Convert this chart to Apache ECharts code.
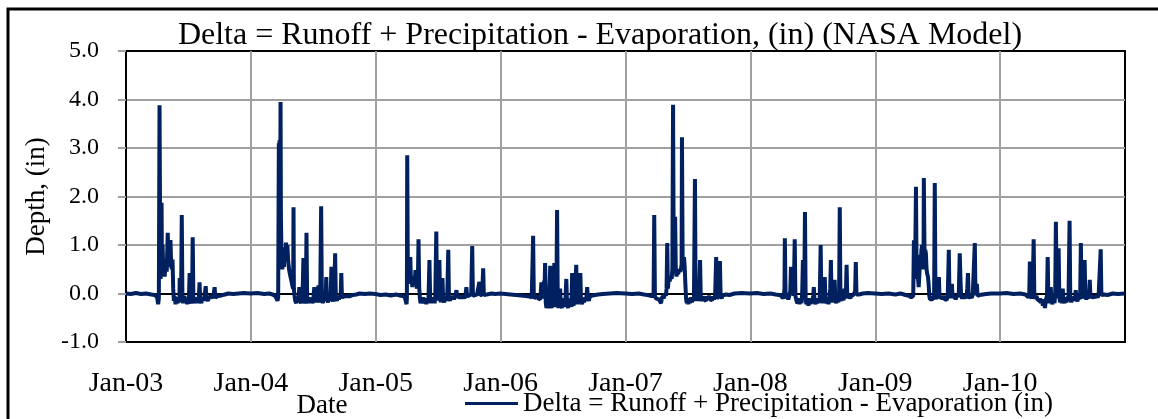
<!DOCTYPE html>
<html>
<head>
<meta charset="utf-8">
<script src="https://cdn.jsdelivr.net/npm/echarts@6/dist/echarts.min.js"></script>
<style>
html,body{margin:0;padding:0;background:#fff;}
#chart{width:1158px;height:419px;}
</style>
</head>
<body>
<div id="chart"></div>
<script>
// ---- DATA: [day of year, delta (in)], one array per year ----
const d2003 = [[1,0],[15,-0.01],[30,0.01],[45,-0.01],[60,0],[75,-0.02],[85,-0.03],[92,-0.08],[95,-0.22],[97,-0.1],[99,3.88],[101,0.9],[102,0.3],[104,0.5],[105,1.87],[106,0.35],[108,1.0],[110,0.4],[112,0.6],[114,0.35],[117,0.7],[120,0.45],[123,1.25],[125,0.55],[128,0.7],[131,1.1],[133,0.6],[135,0.5],[137,0.7],[139,0.1],[141,-0.15],[143,-0.05],[146,-0.22],[149,-0.12],[152,-0.2],[155,-0.08],[157,-0.18],[158,0.32],[160,-0.15],[162,-0.1],[164,1.62],[166,-0.12],[168,-0.2],[171,-0.05],[174,-0.18],[177,-0.1],[180,-0.22],[183,-0.12],[185,-0.05],[187,0.42],[189,-0.15],[192,-0.2],[194,-0.1],[196,1.16],[198,-0.12],[201,-0.2],[204,-0.08],[207,-0.18],[210,-0.1],[213,-0.2],[216,0.23],[218,-0.12],[221,-0.2],[224,-0.1],[227,-0.15],[230,-0.08],[234,0.15],[236,-0.1],[240,-0.15],[244,-0.08],[248,-0.12],[252,-0.05],[256,-0.1],[260,0.13],[262,-0.08],[266,-0.1],[270,-0.05],[275,-0.07],[280,-0.04],[290,-0.02],[300,0],[315,-0.01],[330,0],[345,0.01],[365,0]];
const d2004 = [[1,0],[20,0.01],[40,-0.01],[55,0],[65,-0.02],[72,-0.05],[76,-0.1],[79,-0.15],[81,-0.08],[83,3.1],[84,1.5],[85,3.16],[86,1.2],[87,2.0],[88,3.95],[89,1.6],[91,0.7],[93,0.5],[96,0.7],[98,0.55],[100,0.95],[102,0.75],[104,1.05],[106,0.85],[108,1.0],[110,0.7],[112,0.55],[114,0.45],[117,0.35],[120,0.25],[123,0.15],[125,0.1],[126,1.78],[127,0.1],[129,-0.05],[131,-0.15],[134,-0.2],[136,-0.1],[139,-0.18],[141,-0.08],[143,0.13],[145,-0.15],[148,-0.2],[150,-0.1],[152,-0.18],[155,0.73],[157,-0.12],[160,-0.2],[162,-0.1],[164,1.25],[166,-0.12],[169,-0.2],[172,-0.08],[175,-0.18],[178,-0.1],[181,-0.2],[184,-0.12],[187,0.13],[189,-0.1],[192,-0.18],[195,-0.08],[197,-0.15],[199,0.17],[201,-0.12],[204,-0.18],[207,1.8],[209,-0.1],[212,-0.2],[215,-0.08],[218,-0.15],[220,-0.1],[222,0.34],[224,-0.12],[227,-0.18],[230,-0.08],[233,-0.15],[235,-0.05],[237,0.55],[239,-0.1],[242,-0.16],[245,-0.06],[248,0.83],[250,-0.1],[253,-0.15],[256,-0.06],[259,-0.12],[262,-0.05],[264,-0.1],[266,0.42],[268,-0.08],[271,-0.12],[274,-0.06],[278,-0.1],[283,-0.05],[290,-0.06],[300,-0.03],[310,-0.02],[320,0],[335,-0.01],[350,0],[366,-0.01]];
const d2005 = [[1,-0.01],[15,-0.03],[30,-0.02],[45,-0.04],[60,-0.02],[70,-0.04],[80,-0.05],[86,-0.08],[89,-0.12],[91,-0.22],[92,-0.1],[93,2.85],[95,0.2],[97,0.3],[99,0.5],[101,0.2],[102,0.75],[104,0.25],[106,0.3],[108,0.13],[110,0.35],[113,0.3],[115,0.25],[117,0.48],[119,0.3],[121,0.1],[124,0.2],[126,1.12],[128,0.13],[130,-0.1],[132,-0.2],[135,-0.12],[137,-0.18],[140,-0.08],[143,-0.2],[146,-0.12],[149,-0.22],[152,-0.1],[155,-0.15],[158,0.69],[160,-0.1],[162,-0.2],[165,-0.08],[168,-0.18],[171,-0.1],[173,-0.2],[175,-0.05],[178,1.28],[180,-0.12],[182,0.3],[184,-0.15],[187,0.69],[189,-0.1],[191,-0.18],[193,-0.05],[196,0.32],[198,-0.12],[201,-0.18],[204,-0.08],[207,-0.15],[210,-0.05],[213,0.9],[215,-0.1],[218,-0.15],[221,-0.06],[224,-0.12],[227,-0.05],[230,-0.12],[233,-0.06],[235,-0.1],[237,0.07],[239,-0.08],[242,-0.12],[245,-0.05],[248,-0.1],[251,-0.04],[254,-0.1],[257,-0.05],[260,-0.1],[263,-0.04],[266,0.13],[268,-0.06],[271,-0.1],[274,-0.04],[277,-0.08],[280,-0.02],[283,0.98],[285,-0.05],[288,-0.08],[291,-0.03],[294,-0.06],[297,-0.02],[300,-0.05],[302,-0.02],[304,0.24],[306,-0.04],[309,-0.07],[312,-0.02],[315,0.52],[317,-0.03],[320,-0.05],[325,-0.02],[330,-0.03],[340,0],[350,-0.01],[365,0]];
const d2006 = [[1,0],[15,-0.01],[30,-0.02],[45,-0.03],[60,-0.04],[75,-0.05],[85,-0.06],[92,-0.08],[94,-0.05],[96,1.19],[98,-0.05],[100,-0.1],[102,-0.08],[105,-0.12],[108,-0.05],[111,-0.1],[114,-0.06],[117,-0.12],[119,0.1],[120,0.23],[122,-0.1],[125,0.05],[128,0.26],[129,-0.05],[131,0.63],[133,-0.2],[135,-0.3],[137,0.05],[139,-0.25],[141,-0.3],[143,-0.1],[146,0.57],[148,-0.25],[150,-0.3],[152,0.0],[154,-0.2],[156,-0.1],[158,0.63],[160,-0.1],[162,-0.28],[164,-0.05],[166,1.72],[168,-0.1],[170,-0.3],[172,-0.15],[175,0.1],[177,-0.25],[180,-0.3],[182,-0.15],[185,-0.28],[188,-0.1],[190,-0.25],[193,0.3],[195,-0.2],[198,-0.3],[200,-0.12],[203,-0.25],[205,-0.1],[208,-0.28],[210,0.42],[212,-0.15],[214,-0.25],[217,-0.1],[220,0.2],[222,0.59],[224,-0.05],[226,-0.22],[229,-0.1],[231,-0.2],[234,0.42],[236,-0.15],[239,-0.22],[242,-0.1],[245,-0.18],[248,-0.08],[251,-0.15],[254,0.13],[256,-0.1],[259,-0.15],[262,-0.06],[266,-0.1],[270,-0.04],[275,-0.05],[285,-0.02],[300,-0.01],[320,0],[340,0.01],[365,0]];
const d2007 = [[1,0],[20,-0.01],[40,0],[55,-0.02],[65,-0.03],[75,-0.05],[80,-0.08],[83,-0.05],[85,1.62],[87,-0.05],[90,-0.1],[94,-0.06],[98,-0.12],[101,-0.08],[103,-0.15],[105,-0.2],[107,-0.1],[110,-0.05],[113,-0.1],[116,0.0],[119,-0.05],[121,0.1],[123,1.04],[125,0.1],[127,0.3],[130,0.25],[133,0.35],[136,0.3],[138,0.5],[140,3.89],[142,0.6],[144,1.0],[146,1.58],[148,0.5],[150,0.35],[152,0.45],[155,0.4],[158,0.5],[161,0.45],[163,0.5],[165,0.6],[166,3.22],[168,0.7],[170,0.6],[172,0.75],[174,0.55],[176,0.2],[178,-0.1],[180,-0.2],[182,-0.15],[184,-0.22],[186,-0.1],[189,-0.2],[192,-0.08],[195,-0.18],[198,-0.1],[201,-0.15],[204,2.36],[206,-0.1],[208,-0.15],[210,-0.05],[213,-0.15],[216,-0.08],[219,0.69],[221,-0.1],[224,-0.15],[227,-0.06],[230,-0.12],[233,-0.08],[236,-0.15],[239,-0.06],[242,-0.12],[245,-0.05],[248,-0.12],[251,-0.08],[254,-0.14],[257,-0.06],[260,-0.12],[263,-0.05],[266,0.75],[268,-0.1],[271,-0.12],[274,-0.05],[277,0.67],[279,-0.05],[282,-0.1],[285,-0.04],[290,-0.06],[295,-0.02],[305,-0.03],[320,0],[340,0.01],[365,0]];
const d2008 = [[1,0],[20,0.01],[40,-0.01],[60,0],[75,-0.02],[85,-0.03],[92,-0.05],[96,-0.1],[99,-0.05],[101,0.1],[102,1.14],[104,0.05],[106,-0.1],[109,-0.05],[112,-0.12],[115,-0.05],[118,0.05],[120,0.55],[122,0.0],[124,0.1],[126,0.2],[128,-0.05],[131,1.12],[133,-0.05],[136,-0.15],[139,-0.2],[142,-0.1],[145,-0.22],[148,-0.12],[151,-0.2],[153,0.05],[155,0.69],[157,-0.1],[159,0.1],[161,1.68],[163,-0.1],[165,-0.22],[168,-0.15],[171,-0.25],[174,-0.1],[177,-0.22],[180,-0.12],[183,-0.2],[185,-0.05],[187,0.13],[189,-0.15],[192,-0.22],[195,-0.1],[198,-0.2],[201,-0.12],[204,-0.18],[207,1.0],[209,-0.05],[212,-0.2],[215,-0.1],[217,0.05],[219,0.34],[221,-0.12],[224,-0.2],[227,-0.1],[230,-0.22],[233,-0.08],[235,0.1],[237,0.69],[239,-0.1],[242,-0.18],[245,-0.05],[248,0.28],[250,-0.12],[253,-0.2],[256,-0.1],[259,-0.18],[261,-0.05],[263,1.78],[265,-0.1],[268,-0.15],[271,-0.06],[274,-0.14],[277,0.1],[279,-0.1],[281,0.0],[283,0.59],[285,-0.08],[288,-0.12],[291,-0.05],[294,-0.1],[297,-0.04],[300,-0.08],[303,-0.03],[306,-0.06],[308,0.05],[310,0.65],[312,-0.02],[315,-0.04],[320,-0.02],[330,0],[345,0.01],[366,0]];
const d2009 = [[1,0],[20,-0.01],[40,0],[60,-0.02],[75,0],[90,-0.03],[100,-0.05],[106,-0.08],[110,-0.12],[112,-0.05],[114,1.1],[116,0.5],[118,0.8],[120,2.2],[122,0.3],[124,0.6],[126,0.3],[128,0.13],[130,0.4],[132,0.8],[134,0.63],[136,0.9],[138,1.0],[140,0.6],[142,0.5],[143,2.38],[145,0.8],[147,0.9],[149,0.83],[151,0.5],[153,0.4],[155,0.35],[157,0.2],[159,-0.05],[161,-0.12],[164,-0.15],[166,-0.1],[169,-0.12],[171,-0.05],[173,-0.1],[175,2.28],[177,-0.05],[179,-0.12],[181,0.1],[183,-0.1],[185,0.0],[187,0.34],[189,-0.1],[192,-0.14],[195,-0.06],[198,-0.12],[201,-0.05],[204,-0.12],[207,-0.08],[210,-0.13],[213,-0.05],[216,0.9],[218,-0.08],[220,0.05],[222,-0.1],[225,0.2],[227,-0.08],[230,-0.12],[233,-0.05],[236,-0.12],[239,-0.06],[242,-0.1],[245,-0.04],[248,0.83],[250,0.3],[252,-0.05],[255,-0.1],[258,-0.04],[261,-0.1],[264,-0.05],[267,-0.1],[270,0.1],[272,0.42],[274,-0.05],[277,-0.1],[280,-0.04],[283,-0.09],[286,-0.03],[289,-0.07],[292,1.04],[294,-0.03],[296,0.05],[298,0.2],[300,-0.05],[303,-0.08],[306,-0.03],[310,-0.05],[315,-0.02],[325,-0.01],[340,0],[365,0]];
const d2010 = [[1,0],[20,0.01],[40,-0.01],[60,0],[75,-0.02],[80,-0.04],[84,-0.08],[86,-0.03],[88,0.66],[90,-0.05],[93,-0.1],[96,-0.02],[99,1.12],[101,-0.05],[104,-0.1],[107,-0.05],[110,-0.12],[113,-0.08],[116,-0.15],[118,-0.1],[120,-0.2],[123,-0.12],[126,-0.25],[129,-0.15],[132,-0.3],[135,-0.12],[138,-0.05],[140,0.75],[142,-0.1],[145,-0.2],[147,0.0],[149,0.13],[151,-0.15],[154,-0.22],[157,-0.1],[160,-0.2],[162,0.0],[164,1.48],[166,0.3],[168,-0.1],[170,0.1],[172,0.93],[174,-0.05],[176,-0.18],[179,-0.1],[181,-0.2],[184,0.1],[186,-0.12],[189,-0.2],[192,-0.08],[195,-0.18],[198,-0.1],[201,-0.05],[204,1.5],[206,-0.08],[209,-0.18],[212,-0.1],[215,-0.15],[218,-0.06],[220,-0.12],[222,0.07],[224,-0.1],[227,-0.16],[230,-0.06],[233,-0.12],[235,-0.02],[237,1.04],[239,-0.05],[242,-0.1],[244,0.05],[246,0.3],[248,0.69],[250,-0.05],[253,-0.12],[256,-0.05],[259,-0.1],[261,0.0],[263,0.28],[265,-0.08],[268,-0.12],[271,-0.05],[274,-0.1],[277,-0.04],[280,-0.09],[283,-0.03],[286,-0.08],[289,-0.03],[292,-0.06],[295,0.91],[297,-0.03],[300,-0.06],[305,-0.02],[315,-0.03],[330,0],[345,-0.01],[365,0]];

const years = [2003, 2004, 2005, 2006, 2007, 2008, 2009, 2010];
const yearData = [d2003, d2004, d2005, d2006, d2007, d2008, d2009, d2010];
const xTickLabels = ['Jan-03','Jan-04','Jan-05','Jan-06','Jan-07','Jan-08','Jan-09','Jan-10'];
const seriesName = 'Delta = Runoff + Precipitation - Evaporation (in)';
const chartTitle = 'Delta = Runoff + Precipitation - Evaporation, (in) (NASA Model)';

// Build [fractional year, value] points
const points = [];
years.forEach((yr, i) => {
  const leap = (yr % 4 === 0);
  const n = leap ? 366 : 365;
  yearData[i].forEach(([doy, v]) => points.push([yr + (doy - 1) / n, v]));
});

const FONT = '"Liberation Serif","Times New Roman",serif';
const chart = echarts.init(document.getElementById('chart'), null, {renderer: 'canvas'});
chart.setOption({
  animation: false,
  backgroundColor: '#fff',
  grid: {left: 126, right: 33, top: 51, bottom: 77, show: true, borderColor: '#000', borderWidth: 2, backgroundColor: '#fff'},
  xAxis: {
    type: 'value', min: 2003, max: 2011, interval: 1,
    axisLine: {show: true, lineStyle: {color: '#000', width: 2}},
    axisTick: {show: false},
    axisLabel: {
      fontFamily: FONT, fontSize: 28, color: '#000', margin: 28,
      formatter: v => xTickLabels[Math.round(v - 2003)] || ''
    },
    splitLine: {show: true, showMinLine: false, showMaxLine: false, lineStyle: {color: '#a0a0a0', width: 2}}
  },
  yAxis: {
    type: 'value', min: -1, max: 5, interval: 1,
    name: 'Depth, (in)', nameLocation: 'middle', nameGap: 76,
    nameTextStyle: {fontFamily: FONT, fontSize: 27, color: '#000'},
    axisLine: {show: true, lineStyle: {color: '#000', width: 2}},
    axisTick: {show: true, length: 8, lineStyle: {color: '#a0a0a0', width: 2}},
    axisLabel: {fontFamily: FONT, fontSize: 24, color: '#000', margin: 27, formatter: v => v.toFixed(1)},
    splitLine: {show: true, showMinLine: false, showMaxLine: false, lineStyle: {color: '#a0a0a0', width: 2}}
  },
  legend: {
    left: 465, top: 390, padding: 0, itemWidth: 53, itemHeight: 3, icon: 'rect',
    textStyle: {fontFamily: FONT, fontSize: 27, color: '#000'},
    data: [seriesName]
  },
  graphic: [
    {type: 'rect', z: -10, silent: true, shape: {x: 8, y: 9, width: 1200, height: 500}, style: {fill: 'none', stroke: '#000', lineWidth: 3}},
    {type: 'text', x: 600, y: 36, silent: true, style: {text: chartTitle, font: '32px ' + FONT, fill: '#000', textAlign: 'center', textVerticalAlign: 'middle'}},
    {type: 'text', x: 322, y: 406, silent: true, style: {text: 'Date', font: '27px ' + FONT, fill: '#000', textAlign: 'center', textVerticalAlign: 'middle'}}
  ],
  series: [{
    name: seriesName, type: 'line', data: points, symbol: 'none', showSymbol: false,
    lineStyle: {color: '#002060', width: 4}, itemStyle: {color: '#002060'}, z: 5
  }]
});
</script>
</body>
</html>
